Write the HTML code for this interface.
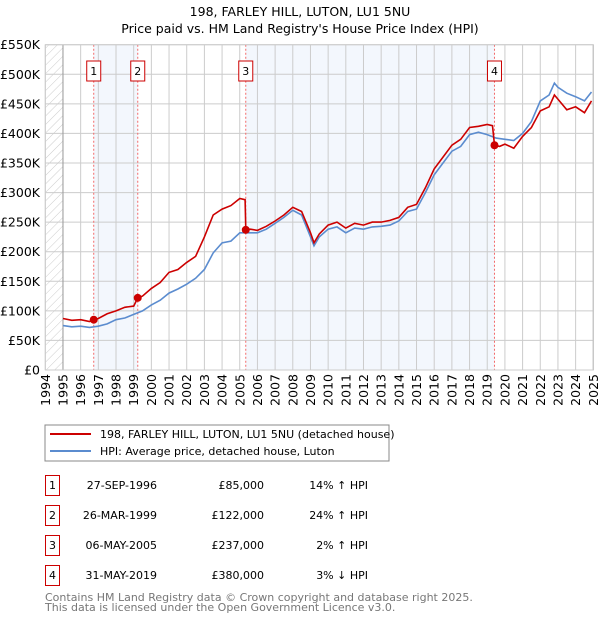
<!DOCTYPE html>
<html><head><meta charset="utf-8">
<style>
body{margin:0;background:#fff;width:600px;height:620px;overflow:hidden;font-family:"Liberation Sans","DejaVu Sans",sans-serif}
svg text{font-family:"DejaVu Sans","Liberation Sans",sans-serif}
</style></head><body>
<svg id="c" width="600" height="620" viewBox="0 0 600 620">
<defs><pattern id="hatch" width="6" height="6" patternUnits="userSpaceOnUse" patternTransform="rotate(45)"><line x1="0" y1="0" x2="0" y2="6" stroke="#ccc" stroke-width="1"/></pattern></defs>
<text x="300" y="16" text-anchor="middle" font-size="12.5">198, FARLEY HILL, LUTON, LU1 5NU</text>
<text x="300" y="33" text-anchor="middle" font-size="12.5">Price paid vs. HM Land Registry's House Price Index (HPI)</text>
<g id="plot"></g>
<rect x="45" y="425" width="344" height="36" fill="#fff" stroke="#888"/>
<line x1="50" y1="434" x2="91" y2="434" stroke="#cc0000" stroke-width="2"/>
<text x="100" y="438" font-size="11">198, FARLEY HILL, LUTON, LU1 5NU (detached house)</text>
<line x1="50" y1="451" x2="91" y2="451" stroke="#5b8ccf" stroke-width="2"/>
<text x="100" y="455" font-size="11">HPI: Average price, detached house, Luton</text>
<g id="table" font-size="11"></g>
<text x="45" y="601" font-size="11" fill="#777">Contains HM Land Registry data © Crown copyright and database right 2025.</text>
<text x="45" y="611" font-size="11" fill="#777">This data is licensed under the Open Government Licence v3.0.</text>
</svg>
<script>
const yTicks=[0,50,100,150,200,250,300,350,400,450,500,550];
const yTickLabels=["£0","£50K","£100K","£150K","£200K","£250K","£300K","£350K","£400K","£450K","£500K","£550K"];
const years=[1994,1995,1996,1997,1998,1999,2000,2001,2002,2003,2004,2005,2006,2007,2008,2009,2010,2011,2012,2013,2014,2015,2016,2017,2018,2019,2020,2021,2022,2023,2024,2025];
const hpiDates=[1995,1995.5,1996,1996.5,1997,1997.5,1998,1998.5,1999,1999.5,2000,2000.5,2001,2001.5,2002,2002.5,2003,2003.5,2004,2004.5,2005,2005.5,2006,2006.5,2007,2007.5,2008,2008.5,2009,2009.2,2009.5,2010,2010.5,2011,2011.5,2012,2012.5,2013,2013.5,2014,2014.5,2015,2015.5,2016,2016.5,2017,2017.5,2018,2018.5,2019,2019.5,2020,2020.5,2021,2021.5,2022,2022.5,2022.8,2023,2023.5,2024,2024.5,2024.9];
const hpiValues=[75,73,74,72,74,78,85,88,94,100,110,118,130,137,145,155,170,198,215,218,232,232,232,238,248,258,270,262,225,210,225,238,242,232,240,238,242,243,245,252,268,272,300,330,350,370,378,398,402,398,392,390,388,400,420,455,465,485,478,468,462,455,470];
const priceDates=[1995,1995.5,1996,1996.5,1996.74,1997,1997.5,1998,1998.5,1999,1999.23,1999.5,2000,2000.5,2001,2001.5,2002,2002.5,2003,2003.5,2004,2004.5,2005,2005.3,2005.34,2005.6,2006,2006.5,2007,2007.5,2008,2008.5,2009,2009.2,2009.5,2010,2010.5,2011,2011.5,2012,2012.5,2013,2013.5,2014,2014.5,2015,2015.5,2016,2016.5,2017,2017.5,2018,2018.5,2019,2019.3,2019.41,2019.7,2020,2020.5,2021,2021.5,2022,2022.5,2022.8,2023,2023.5,2024,2024.5,2024.9];
const priceValues=[87,84,85,82,85,87,95,100,106,108,122,125,138,148,165,170,182,192,225,262,272,278,290,288,237,238,236,243,252,262,275,268,232,215,230,245,250,240,248,245,250,250,253,258,275,280,308,340,360,380,390,410,412,415,413,380,378,382,375,395,410,438,445,465,458,440,445,435,455];
const saleLabels=["1","2","3","4"];
const saleDates=[1996.74,1999.23,2005.34,2019.41];
const salePrices=[85,122,237,380];
const saleDateText=["27-SEP-1996","26-MAR-1999","06-MAY-2005","31-MAY-2019"];
const salePriceText=["£85,000","£122,000","£237,000","£380,000"];
const saleHpiText=["14% ↑ HPI","24% ↑ HPI","2% ↑ HPI","3% ↓ HPI"];

const NS="http://www.w3.org/2000/svg";
const X0=45.3,X1=593.3,Y0=370,Y1=44.7;
const xs=t=>X0+(t-1994)*(X1-X0)/31;
const ys=v=>Y0-(v/550)*(Y0-Y1);
const plot=document.getElementById('plot');
function mk(tag,attrs,parent){const e=document.createElementNS(NS,tag);for(const k in attrs)e.setAttribute(k,attrs[k]);(parent||plot).appendChild(e);return e;}
let e;
e=mk('rect',{x:X0,y:Y1,width:X1-X0,height:Y0-Y1,fill:'#fff'});


e=mk('rect',{x:xs(saleDates[0]),y:Y1,width:xs(saleDates[1])-xs(saleDates[0]),height:Y0-Y1,fill:'#eef3fc',opacity:0.7});


e=mk('rect',{x:xs(saleDates[2]),y:Y1,width:xs(saleDates[3])-xs(saleDates[2]),height:Y0-Y1,fill:'#eef3fc',opacity:0.7});


e=mk('rect',{x:X0,y:Y1,width:xs(1995)-X0,height:Y0-Y1,fill:'url(#hatch)'});


yTicks.forEach((v,i)=>{
 e=mk('line',{x1:X0,x2:X1,y1:ys(v),y2:ys(v),stroke:'#ccc','stroke-width':1});
 
 
 e=mk('text',{x:40,y:ys(v)+4.5,'text-anchor':'end','font-size':12.5});
 e.textContent=yTickLabels[i];
 
 
});
years.forEach(yr=>{
 e=mk('line',{x1:xs(yr),x2:xs(yr),y1:Y1,y2:Y0,stroke:'#ccc','stroke-width':1});
 
 
 e=mk('text',{x:0,y:0,'text-anchor':'end','font-size':12.5,transform:`translate(${xs(yr)+4.5},374) rotate(-90)`});
 e.textContent=yr;
 
 
});
e=mk('line',{x1:xs(1995),x2:xs(1995),y1:Y1,y2:Y0,stroke:'#999'});


e=mk('line',{x1:X1,x2:X1,y1:Y1,y2:Y0,stroke:'#999'});


saleDates.forEach((d,i)=>{
 e=mk('line',{x1:xs(d),x2:xs(d),y1:Y1,y2:Y0,stroke:'#f26a6a','stroke-dasharray':'2,2'});
 
 
});
const path=(D,V)=>D.map((d,i)=>(i?'L':'M')+xs(d).toFixed(1)+','+ys(V[i]).toFixed(1)).join('');
e=mk('path',{d:path(hpiDates,hpiValues),fill:'none',stroke:'#5b8ccf','stroke-width':1.6});


e=mk('path',{d:path(priceDates,priceValues),fill:'none',stroke:'#cc0000','stroke-width':1.6});


saleDates.forEach((d,i)=>{
 e=mk('circle',{cx:xs(d),cy:ys(salePrices[i]),r:4,fill:'#cc0000'});
 
 
 const bx=xs(d)-7;
 e=mk('rect',{x:bx,y:61,width:14,height:20,fill:'#fff',stroke:'#cc0000'});
 
 
 e=mk('text',{x:xs(d),y:75,'text-anchor':'middle','font-size':11});
 e.textContent=saleLabels[i];
 
 
});
e=mk('rect',{x:X0,y:Y1,width:X1-X0,height:Y0-Y1,fill:'none',stroke:'#ccc'});


const tbl=document.getElementById('table');
saleLabels.forEach((l,i)=>{
 const y=495+i*30;
 e=mk('rect',{x:45.5,y:y-19.5,width:14,height:20,fill:'#fff',stroke:'#cc0000'},tbl);
 
 
 e=mk('text',{x:52.5,y:y-6,'text-anchor':'middle'},tbl);e.textContent=l;
 
 
 e=mk('text',{x:157,y:y-6,'text-anchor':'end'},tbl);e.textContent=saleDateText[i];
 
 
 e=mk('text',{x:264,y:y-6,'text-anchor':'end'},tbl);e.textContent=salePriceText[i];
 
 
 e=mk('text',{x:368,y:y-6,'text-anchor':'end'},tbl);e.textContent=saleHpiText[i];
 
 
});
</script>
</body></html>
